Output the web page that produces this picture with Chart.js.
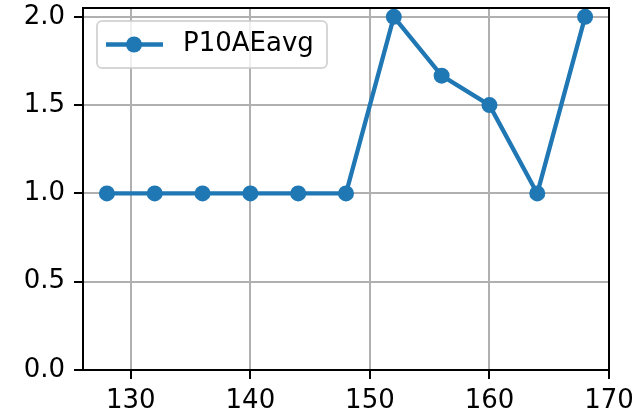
<!DOCTYPE html>
<html>
<head>
<meta charset="utf-8">
<script src="https://cdn.jsdelivr.net/npm/chart.js@4/dist/chart.umd.min.js"></script>
<style>
  html, body { margin: 0; padding: 0; background: #fff; }
  #wrap { width: 634px; height: 416px; }
</style>
</head>
<body>
<div id="wrap"><canvas id="chart" width="634" height="416"></canvas></div>
<script>
// data
const xValues = [128, 132, 136, 140, 144, 148, 152, 156, 160, 164, 168];
const yValues = [1, 1, 1, 1, 1, 1, 2, 1.667, 1.5, 1, 2];
const seriesLabel = 'P10AEavg';
const xTicks = [130, 140, 150, 160, 170];
const yTicks = [0, 0.5, 1.0, 1.5, 2.0];

const blue = '#1f77b4';
const font = { family: 'DejaVu Sans', size: 26 };

// top and right spines, legend inside the plot
const framePlugin = {
	id: 'frame',
	afterDraw(chart) {
		const ctx = chart.ctx;
		const a = chart.chartArea;
		ctx.save();
		ctx.strokeStyle = '#000';
		ctx.lineWidth = 2;
		ctx.beginPath();
		ctx.moveTo(a.left, a.top);
		ctx.lineTo(a.right, a.top);
		ctx.lineTo(a.right, a.bottom);
		ctx.stroke();

		// legend box
		const bx = 97, by = 21, bw = 230, bh = 47, r = 5;
		ctx.beginPath();
		ctx.roundRect(bx, by, bw, bh, r);
		ctx.fillStyle = 'rgba(255,255,255,0.8)';
		ctx.fill();
		ctx.strokeStyle = 'rgba(204,204,204,0.8)';
		ctx.lineWidth = 2;
		ctx.stroke();

		const ly = by + bh / 2;
		ctx.strokeStyle = blue;
		ctx.lineWidth = 4.3;
		ctx.beginPath();
		ctx.moveTo(106, ly);
		ctx.lineTo(163, ly);
		ctx.stroke();
		ctx.fillStyle = blue;
		ctx.beginPath();
		ctx.arc(134, ly, 8, 0, Math.PI * 2);
		ctx.fill();

		ctx.fillStyle = '#000';
		ctx.font = font.size + 'px ' + font.family;
		ctx.textBaseline = 'middle';
		ctx.textAlign = 'left';
		ctx.fillText(seriesLabel, 183, ly);
		ctx.restore();
	}
};

new Chart(document.getElementById('chart'), {
	type: 'line',
	data: {
		datasets: [{
			label: seriesLabel,
			data: xValues.map((x, i) => ({ x: x, y: yValues[i] })),
			borderColor: blue,
			backgroundColor: blue,
			borderWidth: 4.3,
			pointRadius: 8,
			pointHoverRadius: 8,
			pointBorderWidth: 0,
			tension: 0
		}]
	},
	options: {
		responsive: false,
		animation: false,
		events: [],
		layout: { padding: { left: 0, top: 7, right: 25, bottom: 0 } },
		plugins: { legend: { display: false }, tooltip: { enabled: false } },
		scales: {
			x: {
				type: 'linear',
				min: 126,
				max: 170,
				afterBuildTicks: (axis) => { axis.ticks = xTicks.map((v) => ({ value: v })); },
				afterFit: (scale) => {
					scale.height = 46;
					scale.paddingLeft = 0;
					scale.paddingRight = 0;
				},
				ticks: { color: '#000', font: font, padding: 7, maxRotation: 0, callback: (v) => String(v) },
				grid: { color: '#b0b0b0', lineWidth: 2, tickLength: 9, tickColor: '#000', tickWidth: 2 },
				border: { color: '#000', width: 2 }
			},
			y: {
				min: 0,
				max: 2.05,
				afterBuildTicks: (axis) => { axis.ticks = yTicks.map((v) => ({ value: v })); },
				afterFit: (scale) => {
					scale.width = 83;
					scale.paddingTop = 0;
					scale.paddingBottom = 0;
				},
				ticks: { color: '#000', font: font, padding: 9, callback: (v) => v.toFixed(1) },
				grid: { color: '#b0b0b0', lineWidth: 2, tickLength: 9, tickColor: '#000', tickWidth: 2 },
				border: { color: '#000', width: 2 }
			}
		}
	},
	plugins: [framePlugin]
});
</script>
</body>
</html>
